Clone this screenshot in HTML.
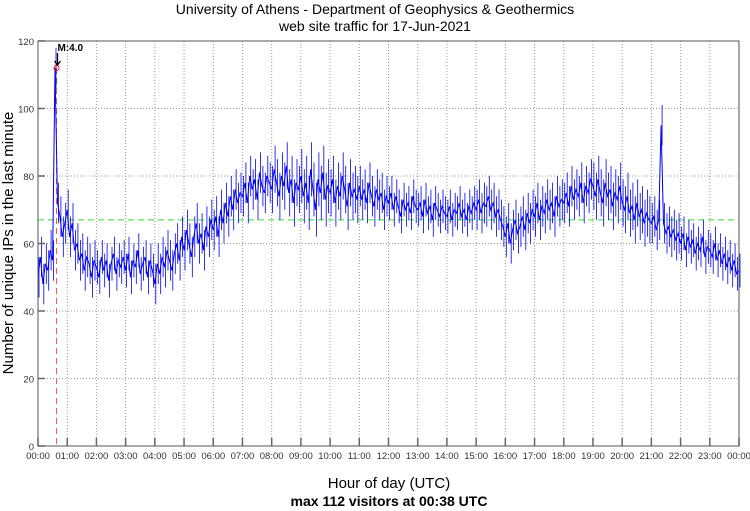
<!DOCTYPE html>
<html><head><meta charset="utf-8"><style>
body{margin:0;background:#fff;}
svg{display:block;font-family:"Liberation Sans",sans-serif;}
</style></head><body>
<svg id="chart" width="750" height="511">
<text x="375" y="14" text-anchor="middle" font-size="14">University of Athens - Department of Geophysics &amp; Geothermics</text>
<text x="375" y="31" text-anchor="middle" font-size="14">web site traffic for 17-Jun-2021</text>
<text x="389" y="488" text-anchor="middle" font-size="15">Hour of day (UTC)</text>
<text x="389" y="506" text-anchor="middle" font-size="14" font-weight="bold">max 112 visitors at 00:38 UTC</text>
<text transform="translate(13,243) rotate(-90)" text-anchor="middle" font-size="15">Number of unique IPs in the last minute</text>
<g id="grid"></g><g id="series"></g><g id="axes"></g>
</svg>
<script>
const yTicks=[0,20,40,60,80,100,120];
const xTickLabels=["00:00","01:00","02:00","03:00","04:00","05:00","06:00","07:00","08:00","09:00","10:00","11:00","12:00","13:00","14:00","15:00","16:00","17:00","18:00","19:00","20:00","21:00","22:00","23:00","00:00"];
const visitors=[50,56,48,54,52,58,55,112,72,68,62,66,
70,62,66,58,60,55,57,52,56,54,50,55,
53,50,56,52,55,49,54,57,51,55,53,56,
52,57,50,55,53,58,51,54,56,50,55,52,
48,54,51,56,53,58,55,52,57,60,55,62,
58,64,60,56,62,66,60,63,58,65,62,67,
64,68,62,70,66,72,68,74,70,76,72,75,
74,78,72,80,76,79,73,81,77,75,80,78,
76,82,78,74,80,77,83,75,79,72,78,76,
80,74,78,72,82,76,70,79,75,81,73,77,
75,79,72,77,74,80,76,71,78,74,76,73,
77,73,76,72,78,74,71,76,73,75,70,74,
72,75,70,74,71,68,73,70,72,69,74,71,
70,72,68,73,69,71,67,72,70,68,71,69,
68,71,67,70,69,72,68,70,67,71,69,72,
70,73,69,72,71,74,70,72,68,70,67,65,
62,66,60,64,67,63,65,68,64,69,66,70,
68,72,67,71,69,73,70,72,68,74,71,73,
72,75,71,77,73,76,74,78,72,77,75,79,
77,74,79,75,72,78,74,76,71,75,73,77,
72,70,74,69,71,67,72,68,70,66,69,67,
66,68,64,67,95,66,63,65,62,64,61,63,
60,63,58,62,59,61,57,60,58,62,56,59,
58,56,60,55,58,54,57,53,56,52,55,51,52];
const hourlySpread=[6,6,5,5,6,6,6,6,7,8,7,6,5,5,5,6,6,6,6,7,7,6,5,5];
const stepMinutes=5;
const meanValue=67;
const maxMinute=38, maxValue=112;
const L=38,R=739,T=41,B=446;
const xs=m=>L+(R-L)*m/1440;
const ys=v=>B-(B-T)*v/120;
const NS="http://www.w3.org/2000/svg";
function mk(tag,attrs,parent){const e=document.createElementNS(NS,tag);for(const k in attrs)e.setAttribute(k,attrs[k]);parent.appendChild(e);return e;}
const grid=document.getElementById('grid'),axes=document.getElementById('axes'),ser=document.getElementById('series');
xTickLabels.forEach((t,i)=>{const x=xs(i*60);
 if(i>0&&i<24){const g=mk('line',{x1:x,x2:x,y1:T,y2:B,stroke:'#999','stroke-dasharray':'1,2'},grid);}
 const tk=mk('line',{x1:x,x2:x,y1:B,y2:B-8,stroke:'#666','stroke-width':1.5},axes);
 const lb=mk('text',{x:x,y:B+13,'text-anchor':'middle','font-size':9.5,fill:'#333'},axes);lb.textContent=t;});
yTicks.forEach(v=>{const y=ys(v);
 if(v>0&&v<120){const g=mk('line',{x1:L,x2:R,y1:y,y2:y,stroke:'#999','stroke-dasharray':'1,2'},grid);}
 const tk=mk('line',{x1:L,x2:L+7,y1:y,y2:y,stroke:'#666','stroke-width':1.5},axes);
 const lb=mk('text',{x:L-4,y:y+4,'text-anchor':'end','font-size':9.5,fill:'#333'},axes);lb.textContent=v;});
const fr=mk('rect',{x:L,y:T,width:R-L,height:B-T,fill:'none',stroke:'#555'},axes);

const ml=mk('line',{x1:L,x2:R,y1:ys(meanValue),y2:ys(meanValue),stroke:'#33dd33','stroke-dasharray':'6,4'},ser);

const vl=mk('line',{x1:xs(maxMinute),x2:xs(maxMinute),y1:ys(maxValue),y2:B,stroke:'#ff5555','stroke-dasharray':'6,4'},ser);

let d='';
visitors.forEach((v,i)=>{const h=Math.min(23,Math.floor(i*stepMinutes/60));const s=hourlySpread[h];const x=xs(i*stepMinutes+2).toFixed(1);
 d+=`M${x},${ys(v+s).toFixed(1)}V${ys(v-s).toFixed(1)}`;});
const sp=mk('path',{d:d,stroke:'#0000ee','stroke-width':0.8,fill:'none'},ser);

const pts=visitors.map((v,i)=>xs(i*stepMinutes).toFixed(1)+','+ys(v).toFixed(1)).join(' ');
const pl=mk('polyline',{points:pts,fill:'none',stroke:'#0000ee','stroke-width':1},ser);

const mc=mk('circle',{cx:xs(maxMinute),cy:ys(maxValue),r:2.5,fill:'none',stroke:'#ff0000'},ser);

const ar=mk('path',{d:`M${xs(maxMinute)+1},${ys(maxValue)-15}V${ys(maxValue)-3}M${xs(maxMinute)-2},${ys(maxValue)-7}L${xs(maxMinute)+1},${ys(maxValue)-3}L${xs(maxMinute)+4},${ys(maxValue)-7}`,stroke:'#000','stroke-width':1.3,fill:'none'},ser);

const mt=mk('text',{x:xs(maxMinute)+1,y:ys(maxValue)-17,'font-size':10,'font-weight':'bold'},ser);
mt.textContent='M:4.0';
</script>
</body></html>
